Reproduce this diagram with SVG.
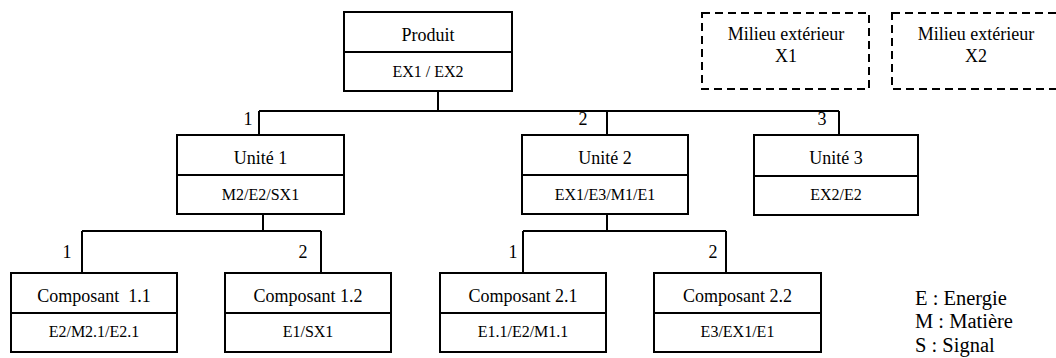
<svg xmlns="http://www.w3.org/2000/svg" width="1056" height="358" viewBox="0 0 1056 358">
<style>
.box{fill:#fff;stroke:#000;stroke-width:2}
.dash{fill:none;stroke:#000;stroke-width:2;stroke-dasharray:8 5}
.div{stroke:#000;stroke-width:2}
.conn{fill:none;stroke:#000;stroke-width:2}
text{font-family:"Liberation Serif","Times New Roman",serif;fill:#000}
.t{font-size:18px;text-anchor:middle}
.s{font-size:16px;text-anchor:middle}
.n{font-size:18px;text-anchor:middle}
.lg{font-size:20.5px}
</style>
<rect width="1056" height="358" fill="#fff"/>
<g id="connectors">
<path class="conn" d="M438 91V111M259 111H839M259 111V135M607 111V135M839 111V135"/>
<path class="conn" d="M263 214V231M82 231H321M82 231V273M321 231V273"/>
<path class="conn" d="M607 214V231M523 231H726M523 231V273M726 231V273"/>
<text class="n" x="248" y="125">1</text>
<text class="n" x="583" y="125">2</text>
<text class="n" x="822" y="125">3</text>
<text class="n" x="67" y="258">1</text>
<text class="n" x="303" y="258">2</text>
<text class="n" x="513" y="258">1</text>
<text class="n" x="713" y="258">2</text>
</g>
<g id="produit">
<rect class="box" x="344" y="12" width="168" height="79"/>
<line class="div" x1="344" y1="52" x2="512" y2="52"/>
<text class="t" x="428" y="41">Produit</text>
<text class="s" x="428" y="77">EX1 / EX2</text>
</g>
<g id="milieu1">
<rect class="dash" x="702" y="13" width="167" height="76"/>
<text class="t" x="786" y="40">Milieu extérieur</text>
<text class="t" x="786" y="62">X1</text>
</g>
<g id="milieu2">
<rect class="dash" x="892" y="13" width="168" height="76"/>
<text class="t" x="976" y="40">Milieu extérieur</text>
<text class="t" x="976" y="62">X2</text>
</g>
<g id="unite1">
<rect class="box" x="177" y="135" width="167" height="79"/>
<line class="div" x1="177" y1="175" x2="344" y2="175"/>
<text class="t" x="260.5" y="164">Unité 1</text>
<text class="s" x="260.5" y="200">M2/E2/SX1</text>
</g>
<g id="unite2">
<rect class="box" x="522" y="135" width="166" height="79"/>
<line class="div" x1="522" y1="175" x2="688" y2="175"/>
<text class="t" x="605" y="164">Unité 2</text>
<text class="s" x="605" y="200">EX1/E3/M1/E1</text>
</g>
<g id="unite3">
<rect class="box" x="754" y="135" width="164" height="80"/>
<line class="div" x1="754" y1="176" x2="918" y2="176"/>
<text class="t" x="836" y="164">Unité 3</text>
<text class="s" x="836" y="200">EX2/E2</text>
</g>
<g id="composant11">
<rect class="box" x="11" y="273" width="166" height="79"/>
<line class="div" x1="11" y1="313" x2="177" y2="313"/>
<text class="t" x="94" y="302" xml:space="preserve">Composant  1.1</text>
<text class="s" x="94" y="337">E2/M2.1/E2.1</text>
</g>
<g id="composant12">
<rect class="box" x="225" y="273" width="166" height="79"/>
<line class="div" x1="225" y1="313" x2="391" y2="313"/>
<text class="t" x="308" y="302">Composant 1.2</text>
<text class="s" x="308" y="337">E1/SX1</text>
</g>
<g id="composant21">
<rect class="box" x="440" y="273" width="166" height="79"/>
<line class="div" x1="440" y1="313" x2="606" y2="313"/>
<text class="t" x="523" y="302">Composant 2.1</text>
<text class="s" x="523" y="337">E1.1/E2/M1.1</text>
</g>
<g id="composant22">
<rect class="box" x="654" y="273" width="167" height="79"/>
<line class="div" x1="654" y1="313" x2="821" y2="313"/>
<text class="t" x="737.5" y="302">Composant 2.2</text>
<text class="s" x="737.5" y="337">E3/EX1/E1</text>
</g>
<g id="legende">
<text class="lg" x="915" y="305">E : Energie</text>
<text class="lg" x="915" y="328">M : Matière</text>
<text class="lg" x="915" y="352">S : Signal</text>
</g>
</svg>
